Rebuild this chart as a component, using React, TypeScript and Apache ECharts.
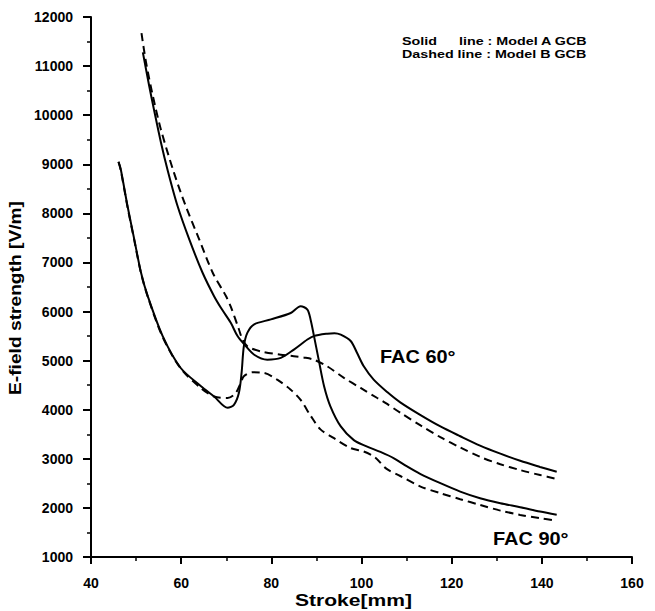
import React, { useEffect, useRef } from "react";
import * as echarts from "echarts";

// Stroke [mm], E-field strength [V/m]
const solidFac60: [number, number][] = [
  [51.5, 11280], [52.9, 10600], [54.0, 10100], [55.5, 9450], [57.0, 8880], [59.2, 8150],
  [61.8, 7470], [64.7, 6800], [67.3, 6313], [69.0, 6050], [71.0, 5770], [72.5, 5500],
  [74.0, 5330], [76.2, 5120], [79.1, 5020], [82.1, 5056], [85.0, 5225], [88.0, 5430],
  [89.4, 5500], [92.4, 5550], [94.0, 5560], [95.4, 5530], [97.6, 5400], [99.0, 5160],
  [100.5, 4884], [102.7, 4613], [105.7, 4360], [108.6, 4150], [113.1, 3890], [117.5, 3659],
  [121.9, 3460], [126.3, 3270], [130.8, 3105], [135.2, 2960], [139.6, 2835], [143.3, 2735],
];

const dashedFac60: [number, number][] = [
  [51.2, 11670], [52.2, 11080], [53.7, 10400], [55.5, 9710], [58.4, 8830],
  [61.0, 8150], [64.0, 7470], [67.0, 6790], [69.9, 6320], [71.0, 6100], [72.8, 5640],
  [73.6, 5430], [74.7, 5290], [77.6, 5190], [82.1, 5120], [85.0, 5090], [87.5, 5060],
  [89.4, 5020], [92.4, 4884], [96.1, 4650], [99.8, 4443], [103.5, 4239], [105.3, 4140],
  [108.6, 3940], [113.1, 3680], [117.5, 3440], [121.9, 3230], [126.3, 3040], [130.8, 2890],
  [135.2, 2770], [139.6, 2670], [143.3, 2590],
];

const solidFac90: [number, number][] = [
  [46.1, 9050], [46.6, 8900], [48.1, 8150], [49.6, 7470], [51.1, 6790], [52.6, 6310],
  [55.9, 5500], [59.9, 4850], [64.4, 4480], [67.3, 4270], [70.3, 4040], [71.7, 4100],
  [72.8, 4340], [73.4, 4750], [73.9, 5290], [74.7, 5570], [76.2, 5740], [79.9, 5840],
  [84.3, 5970], [86.5, 6110], [88.0, 6040], [88.7, 5840], [89.4, 5530], [90.5, 5020],
  [91.7, 4480], [93.1, 4070], [95.4, 3660], [98.3, 3380], [101.0, 3260], [104.2, 3140],
  [107.2, 3010], [110.0, 2850], [113.1, 2690], [117.5, 2504], [121.9, 2333], [126.3, 2198],
  [130.8, 2096], [135.2, 2014], [139.6, 1925], [143.3, 1860],
];

const dashedFac90: [number, number][] = [
  [46.1, 9050], [46.6, 8880], [48.1, 8130], [49.6, 7450], [51.1, 6780], [52.6, 6300],
  [55.9, 5480], [59.9, 4840], [64.4, 4440], [67.3, 4270], [70.3, 4240], [72.1, 4340],
  [73.2, 4545], [73.9, 4680], [75.8, 4762], [78.4, 4750], [81.3, 4612], [84.3, 4408],
  [86.5, 4200], [88.7, 3880], [90.9, 3600], [93.9, 3420], [97.6, 3219], [100.5, 3150],
  [103.0, 3030], [105.5, 2800], [108.6, 2650], [113.1, 2435], [117.5, 2300], [121.9, 2178],
  [126.3, 2061], [130.8, 1945], [135.2, 1857], [139.6, 1790], [143.3, 1741],
];

const xTitle = "Stroke[mm]";
const yTitle = "E-field strength [V/m]";
const legendSolid = ["Solid", "line : Model A GCB"];
const legendDashed = "Dashed line : Model B GCB";
const label60 = "FAC 60°";
const label90 = "FAC 90°";

const FONT = "'Liberation Sans', Arial, Helvetica, sans-serif";

export default function App() {
  const ref = useRef<HTMLDivElement>(null);
  useEffect(() => {
    if (!ref.current) return;
    const chart = echarts.init(ref.current, undefined, { renderer: "svg" });
    const lineSeries = (data: [number, number][], dashed: boolean) => ({
      type: "line",
      data,
      showSymbol: false,
      smooth: 0.3,
      lineStyle: { color: "#000", width: 2, type: dashed ? [8, 5] : "solid" },
      silent: true,
    });
    const txt = (text: string, x: number, y: number, size: number, sx: number, rotation = 0, align = "left") => ({
      type: "text",
      x,
      y,
      rotation,
      scaleX: sx,
      silent: true,
      style: {
        text,
        font: `bold ${size}px ${FONT}`,
        fill: "#000",
        textAlign: align,
        align,
        textVerticalAlign: "middle",
        verticalAlign: "middle",
      },
    });
    chart.setOption({
      animation: false,
      backgroundColor: "#fff",
      textStyle: { fontFamily: FONT },
      grid: { left: 91, right: 23, top: 17, bottom: 54 },
      xAxis: {
        type: "value",
        min: 40,
        max: 160,
        interval: 20,
        axisLine: { lineStyle: { color: "#000", width: 2 } },
        axisTick: { inside: false, length: 7, lineStyle: { color: "#000", width: 2 } },
        minorTick: { show: true, splitNumber: 2, length: 4, lineStyle: { color: "#000", width: 1.5 } },
        splitLine: { show: false },
        axisLabel: { margin: 19, fontFamily: FONT, fontWeight: "bold", fontSize: 14, color: "#000" },
      },
      yAxis: {
        type: "value",
        min: 1000,
        max: 12000,
        interval: 1000,
        axisLine: { lineStyle: { color: "#000", width: 2 } },
        axisTick: { inside: false, length: 8, lineStyle: { color: "#000", width: 2 } },
        minorTick: { show: true, splitNumber: 2, length: 4, lineStyle: { color: "#000", width: 1.5 } },
        splitLine: { show: false },
        axisLabel: {
          margin: 18,
          fontFamily: FONT,
          fontWeight: "bold",
          fontSize: 14,
          color: "#000",
          formatter: (v: number) => String(v),
        },
      },
      series: [
        lineSeries(solidFac60, false),
        lineSeries(dashedFac60, true),
        lineSeries(solidFac90, false),
        lineSeries(dashedFac90, true),
      ],
      graphic: [
        txt(legendSolid[0], 402, 41, 11, 1.3),
        txt(legendSolid[1], 459, 41, 11, 1.3),
        txt(legendDashed, 402, 54, 11, 1.3),
        txt(label60, 380, 356, 19, 1.05),
        txt(label90, 493, 538, 19, 1.05),
        txt(xTitle, 353 - 58, 600, 17, 1.24),
        { ...txt(yTitle, 16, 298, 16, 1.2, Math.PI / 2, "center") },
      ],
    });
    return () => chart.dispose();
  }, []);
  return <div ref={ref} style={{ position: "fixed", left: 0, top: 0, width: 655, height: 611 }} />;
}
